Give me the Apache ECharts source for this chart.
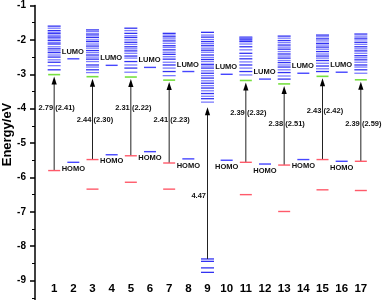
<!DOCTYPE html>
<html><head><meta charset="utf-8">
<script src="https://cdn.jsdelivr.net/npm/echarts@6/dist/echarts.min.js"></script>
<style>html,body{margin:0;padding:0;background:#fff;overflow:hidden}#c{width:383px;height:320px}</style>
</head><body><div id="c"></div>
<script>
// ---- data ----
const xLabels = ['1','2','3','4','5','6','7','8','9','10','11','12','13','14','15','16','17'];
const yTickMin = -10, yTickMax = -1;

// unoccupied orbital bands (odd columns)
const band1  = [-1.60,-1.66,-1.73,-1.78,-1.82,-1.88,-1.92,-1.97,-2.02,-2.08,-2.12,-2.20,-2.26,-2.32,-2.37,-2.44,-2.50,-2.58,-2.65,-2.75,-2.87];
const band3  = [-1.71,-1.76,-1.83,-1.88,-1.93,-2.00,-2.05,-2.12,-2.18,-2.24,-2.31,-2.37,-2.44,-2.50,-2.56,-2.63,-2.73,-2.79,-2.87,-2.95];
const band5  = [-1.66,-1.73,-1.81,-1.88,-1.93,-2.00,-2.07,-2.13,-2.20,-2.26,-2.32,-2.39,-2.47,-2.53,-2.63,-2.73,-2.82,-2.94];
const band7  = [-1.81,-1.86,-1.91,-1.97,-2.03,-2.10,-2.17,-2.22,-2.29,-2.36,-2.42,-2.49,-2.56,-2.65,-2.73,-2.82,-2.92,-3.04];
const band9  = [-1.78,-1.86,-1.92,-1.99,-2.05,-2.11,-2.17,-2.24,-2.30,-2.36,-2.44,-2.51,-2.57,-2.63,-2.71,-2.76,-2.82,-2.90,-2.97,-3.04,-3.11,-3.19,-3.26,-3.33,-3.40,-3.48,-3.56,-3.64,-3.71,-3.81];
const band11 = [-1.92,-1.95,-1.98,-2.02,-2.05,-2.12,-2.20,-2.29,-2.39,-2.47,-2.55,-2.64,-2.73,-2.82,-2.92,-3.02];
const band13 = [-1.89,-1.95,-2.02,-2.08,-2.15,-2.21,-2.27,-2.34,-2.41,-2.47,-2.53,-2.60,-2.66,-2.73,-2.79,-2.87,-2.95,-3.05,-3.14];
const band15 = [-1.86,-1.91,-1.97,-2.03,-2.10,-2.15,-2.21,-2.27,-2.34,-2.41,-2.47,-2.53,-2.60,-2.68,-2.76,-2.84,-2.92];
const band17 = [-1.83,-1.89,-1.95,-2.00,-2.07,-2.13,-2.20,-2.26,-2.32,-2.39,-2.46,-2.52,-2.58,-2.65,-2.73,-2.79,-2.87,-2.97];
const band9Low = [-8.37,-8.44,-8.63,-8.76];

// odd columns: LUMO (green), HOMO (red), lower occupied (red)
const oddCols   = [1, 3, 5, 7, 11, 13, 15, 17];
const oddLumo   = [-3.01,-3.07,-3.08,-3.17,-3.18,-3.28,-3.06,-3.16];
const oddHomo   = [-5.80,-5.48,-5.37,-5.58,-5.56,-5.64,-5.48,-5.53];
const lowCols   = [3, 5, 7, 11, 13, 15, 17];
const lowRed    = [-6.34,-6.14,-6.34,-6.50,-6.99,-6.36,-6.38];
const gapLabels = ['2.79 (2.41)','2.44 (2.30)','2.31 (2.22)','2.41 (2.23)','2.39 (2.32)','2.38 (2.51)','2.43 (2.42)','2.39 (2.59)'];
const gapLabelY = [-3.98,-4.32,-3.98,-4.32,-4.13,-4.44,-4.08,-4.44];

// column 9 arrow
const col9From = -8.37, col9To = -3.90, col9Label = '4.47', col9LabelY = -6.55;

// even columns: LUMO / HOMO (blue)
const evenCols = [2, 4, 6, 8, 10, 12, 14, 16];
const evenLumo = [-2.55,-2.74,-2.80,-2.92,-3.00,-3.14,-2.97,-2.94];
const evenHomo = [-5.56,-5.34,-5.25,-5.46,-5.50,-5.61,-5.48,-5.53];

// ---- build ----
const bands = {1:band1,3:band3,5:band5,7:band7,9:band9,11:band11,13:band13,15:band15,17:band17};
const bandData = [];
Object.keys(bands).forEach(c => bands[c].forEach((v,i) => bandData.push([+c, v, i % 2])));
band9Low.forEach(v => bandData.push([9, v, 0]));

const FONT = '"Liberation Sans", Arial, sans-serif';
const bandColors = ['#3232f2', '#7c7cff'];

function hline(halfW, colorFn, width) {
  return function (params, api) {
    const p = api.coord([api.value(0), api.value(1)]);
    return {type:'line', shape:{x1:p[0]-halfW, y1:p[1], x2:p[0]+halfW, y2:p[1]},
      style:{stroke: colorFn(api), lineWidth: width}};
  };
}

function arrow(params, api) {
  const p1 = api.coord([api.value(0), api.value(1)]);
  const p2 = api.coord([api.value(0), api.value(2)]);
  const tipY = p2[1] + 2;
  return {type:'group', children:[
    {type:'line', shape:{x1:p1[0], y1:p1[1], x2:p1[0], y2:tipY+5}, style:{stroke:'#222', lineWidth:1}},
    {type:'polygon', shape:{points:[[p1[0], tipY],[p1[0]-2.6, tipY+8],[p1[0]+2.6, tipY+8]]}, style:{fill:'#000'}}
  ]};
}

const arrowData = oddCols.map((c,i) => [c, oddHomo[i], oddLumo[i]]);
arrowData.push([9, col9From, col9To]);

const option = {
  animation: false,
  grid: {left: 35, top: 5.5, width: 346, height: 310.05},
  xAxis: {type:'value', min:0, max:18, interval:1,
    axisLine:{show:false}, axisTick:{show:false}, splitLine:{show:false},
    axisLabel:{inside:true, margin:20, color:'#000', fontSize:11.5, fontWeight:'bold', fontFamily:FONT,
      formatter: v => (v >= 1 && v <= 17) ? xLabels[v-1] : ''}},
  yAxis: {type:'value', min:yTickMin, max:yTickMax, interval:1,
    axisLine:{show:true, lineStyle:{color:'#000', width:1.5}},
    axisTick:{show:true, length:5, lineStyle:{color:'#000', width:1.5}},
    minorTick:{show:true, splitNumber:2, length:3, lineStyle:{color:'#000', width:1}},
    splitLine:{show:false},
    axisLabel:{color:'#000', fontSize:10, fontWeight:'bold', fontFamily:FONT, margin:9}},
  graphic: [{type:'text', x:7, y:134.5, rotation:Math.PI/2,
    style:{text:'Energy/eV', font:'bold 13px ' + FONT, align:'center', verticalAlign:'middle', fill:'#000'}}],
  series: [
    {type:'custom', name:'bands', data: bandData,
      renderItem: hline(6.5, api => bandColors[api.value(2)], 1.3)},
    {type:'custom', name:'arrows', data: arrowData, renderItem: arrow},
    {type:'custom', name:'lumoOdd', data: oddCols.map((c,i)=>[c, oddLumo[i]]),
      renderItem: hline(6, () => '#77e040', 1.6)},
    {type:'custom', name:'homoOdd', data: oddCols.map((c,i)=>[c, oddHomo[i]]),
      renderItem: hline(6, () => '#ff5a6a', 1.4)},
    {type:'custom', name:'lowOdd', data: lowCols.map((c,i)=>[c, lowRed[i]]),
      renderItem: hline(6, () => '#ff5a6a', 1.4)},
    {type:'custom', name:'even', data: evenCols.map((c,i)=>[c, evenLumo[i], evenHomo[i]]),
      renderItem: function (params, api) {
        const a = api.coord([api.value(0), api.value(1)]);
        const b = api.coord([api.value(0), api.value(2)]);
        return {type:'group', children:[
          {type:'line', shape:{x1:a[0]-6, y1:a[1], x2:a[0]+6, y2:a[1]}, style:{stroke:'#4646ff', lineWidth:1.4}},
          {type:'line', shape:{x1:b[0]-6, y1:b[1], x2:b[0]+6, y2:b[1]}, style:{stroke:'#4646ff', lineWidth:1.4}},
          {type:'text', x:a[0]-0.5, y:a[1]-7, style:{text:'LUMO', font:'bold 7.5px ' + FONT, align:'center', verticalAlign:'middle', fill:'#111'}},
          {type:'text', x:b[0], y:b[1]+6.6, style:{text:'HOMO', font:'bold 7.5px ' + FONT, align:'center', verticalAlign:'middle', fill:'#111'}}
        ]};
      }},
    {type:'custom', name:'gapLabels', data: oddCols.map((c,i)=>[c, gapLabelY[i]]),
      renderItem: function (params, api) {
        const p = api.coord([api.value(0), api.value(1)]);
        return {type:'text', x:p[0]+2.5, y:p[1], style:{text: gapLabels[params.dataIndex], font:'bold 7.5px ' + FONT, align:'center', verticalAlign:'middle', fill:'#111'}};
      }},
    {type:'custom', name:'col9Label', data: [[9, col9LabelY]],
      renderItem: function (params, api) {
        const p = api.coord([api.value(0), api.value(1)]);
        return {type:'text', x:p[0]-1.5, y:p[1], style:{text: col9Label, font:'bold 7.5px ' + FONT, align:'right', verticalAlign:'middle', fill:'#111'}};
      }}
  ]
};
echarts.init(document.getElementById('c'), null, {renderer:'canvas'}).setOption(option);
</script></body></html>
